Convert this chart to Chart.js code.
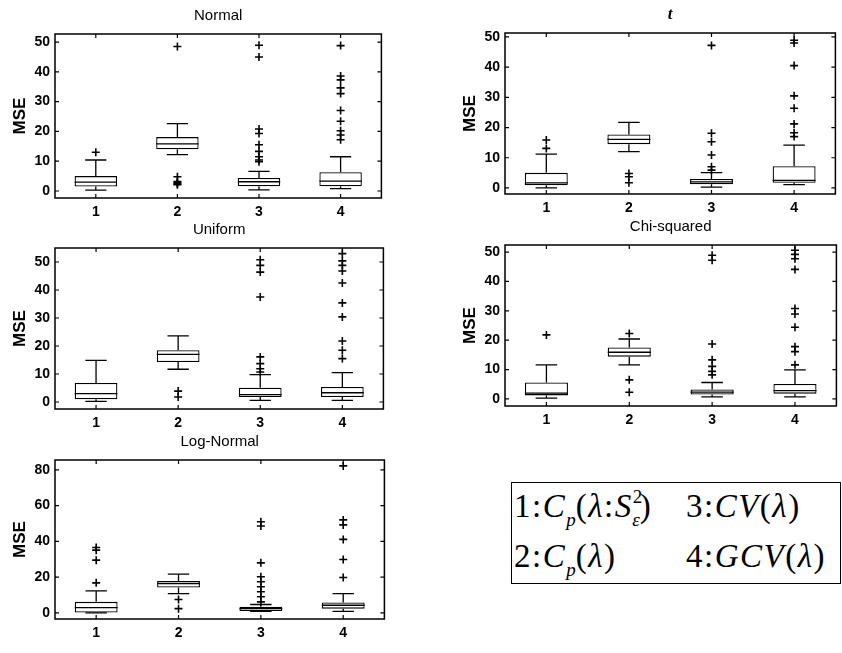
<!DOCTYPE html>
<html>
<head>
<meta charset="utf-8">
<script src="https://cdn.jsdelivr.net/npm/chart.js@4.4.1/dist/chart.umd.min.js"></script>
<style>
  body { margin: 0; background: #fff; width: 842px; height: 653px; position: relative; overflow: hidden; }
  canvas { position: absolute; }
  #legendBox { position: absolute; left: 511px; top: 482px; width: 328px; height: 100px;
    border: 1.5px solid #000; font-family: "Liberation Serif", "Times New Roman", serif; font-size: 33px; color: #000; }
  .lg { position: absolute; white-space: nowrap; line-height: 33px; letter-spacing: 1.5px; }
  .sb { font-size: 19px; position: relative; top: 9px; letter-spacing: 0; }
  .sp { font-size: 19px; position: relative; top: -14px; letter-spacing: 0; }
</style>
</head>
<body>
<div id="legendBox">
  <span class="lg" style="left:2px;top:7px">1:<i>C</i><span class="sb"><i>p</i></span>(<i>λ</i>:<i>S</i><span class="sp">2</span><span class="sb" style="margin-left:-10px"><i>ε</i></span>)</span>
  <span class="lg" style="left:174px;top:7px">3:<i>CV</i>(<i>λ</i>)</span>
  <span class="lg" style="left:2px;top:57px">2:<i>C</i><span class="sb"><i>p</i></span>(<i>λ</i>)</span>
  <span class="lg" style="left:174px;top:57px">4:<i>GCV</i>(<i>λ</i>)</span>
</div>
<script>
var categories = ["1", "2", "3", "4"];
var msTicks = [0, 10, 20, 30, 40, 50];
var logTicks = [0, 20, 40, 60, 80];

// Normal
var normalQ1 = [1.5, 14.0, 1.6, 1.6];
var normalMed = [3.0, 15.8, 3.1, 3.3];
var normalQ3 = [5.0, 18.1, 4.4, 6.3];
var normalLo = [0.3, 12.2, 0.4, 0.8];
var normalHi = [10.4, 22.6, 6.6, 11.5];
var normalOut = [[13.0], [48.5, 4.8, 3.2, 2.8, 2.4, 2.1],
  [48.9, 45.0, 20.8, 19.3, 15.5, 13.3, 11.5, 10.4, 9.8],
  [48.8, 38.6, 37.3, 34.6, 32.7, 27.0, 23.4, 20.2, 18.8, 17.2]];

// t
var tQ1 = [0.9, 14.5, 1.2, 1.7];
var tMed = [1.7, 16.1, 2.0, 2.5];
var tQ3 = [5.0, 17.7, 3.0, 7.2];
var tLo = [0, 12.0, 0.3, 1.1];
var tHi = [11.2, 21.7, 5.1, 14.2];
var tOut = [[13.1, 15.9], [4.8, 3.7, 1.7],
  [47.2, 18.1, 15.3, 10.9, 7.0, 5.9],
  [48.9, 48.0, 40.5, 30.5, 26.4, 21.2, 18.3, 17.0]];

// Uniform
var unifQ1 = [1.0, 14.3, 1.8, 1.8];
var unifMed = [3.0, 17.0, 2.6, 3.3];
var unifQ3 = [6.8, 18.5, 5.1, 5.4];
var unifLo = [0.2, 11.7, 0.6, 0.6];
var unifHi = [14.9, 23.6, 9.8, 10.5];
var unifOut = [[], [3.9, 1.8],
  [50.8, 48.8, 46.4, 37.5, 16.1, 13.7, 11.9, 10.7],
  [53.0, 50.4, 48.8, 46.8, 42.5, 35.4, 30.4, 21.8, 18.5, 15.5]];

// Chi-squared
var chiQ1 = [1.2, 14.4, 1.5, 1.8];
var chiMed = [2.0, 15.9, 2.3, 2.8];
var chiQ3 = [5.6, 17.5, 3.2, 5.1];
var chiLo = [0.3, 11.6, 0.7, 0.7];
var chiHi = [11.6, 20.4, 5.6, 9.9];
var chiOut = [[21.8], [22.3, 6.5, 2.3],
  [48.9, 47.2, 18.7, 13.3, 11.1, 9.4, 8.2],
  [50.6, 49.2, 47.7, 44.1, 30.8, 28.9, 24.4, 17.8, 16.1, 11.6]];

// Log-Normal
var lnQ1 = [0.2, 14.2, 1.1, 2.4];
var lnMed = [3.0, 16.4, 2.4, 4.3];
var lnQ3 = [6.2, 17.8, 3.4, 5.8];
var lnLo = [0, 10.8, 0.9, 0.9];
var lnHi = [12.3, 21.7, 4.7, 10.8];
var lnOut = [[16.8, 29.5, 35.1, 36.6], [7.5, 2.4],
  [51.0, 48.6, 28.0, 20.2, 17.4, 14.6, 11.8, 9.0, 6.2],
  [82.2, 52.0, 49.2, 41.1, 29.9, 19.8]];

var sansBold = { family: "Liberation Sans, Arial, sans-serif", size: 14, weight: "bold" };

function boxExtras(q1, med, q3, lo, hi) {
  return {
    id: "boxExtras",
    afterDatasetsDraw: function(chart) {
      var ctx = chart.ctx, ys = chart.scales.y;
      var bars = chart.getDatasetMeta(0).data;
      ctx.save();
      ctx.strokeStyle = "#000";
      ctx.lineWidth = 1.3;
      ctx.beginPath();
      bars.forEach(function(bar, i) {
        var x = bar.x, hw = bar.width / 2, cw = hw / 2;
        var ym = ys.getPixelForValue(med[i]);
        ctx.moveTo(x - hw, ym); ctx.lineTo(x + hw, ym);
        var yTop = ys.getPixelForValue(q3[i]), yHi = ys.getPixelForValue(hi[i]);
        ctx.moveTo(x, yTop); ctx.lineTo(x, yHi);
        ctx.moveTo(x - cw, yHi); ctx.lineTo(x + cw, yHi);
        var yBot = ys.getPixelForValue(q1[i]), yLo = ys.getPixelForValue(lo[i]);
        ctx.moveTo(x, yBot); ctx.lineTo(x, yLo);
        ctx.moveTo(x - cw, yLo); ctx.lineTo(x + cw, yLo);
      });
      ctx.stroke();
      ctx.restore();
    }
  };
}

// frame and inward ticks, matlab style
var frameTicks = {
  id: "frameTicks",
  afterDraw: function(chart) {
    var ctx = chart.ctx, a = chart.chartArea, xs = chart.scales.x, ys = chart.scales.y;
    ctx.save();
    ctx.strokeStyle = "#000";
    ctx.lineWidth = 1.5;
    ctx.strokeRect(a.left, a.top, a.right - a.left, a.bottom - a.top);
    ctx.lineWidth = 1.2;
    ctx.beginPath();
    ys.ticks.forEach(function(t) {
      var y = ys.getPixelForValue(t.value);
      ctx.moveTo(a.left, y); ctx.lineTo(a.left + 4, y);
      ctx.moveTo(a.right, y); ctx.lineTo(a.right - 4, y);
    });
    xs.ticks.forEach(function(t, i) {
      var x = xs.getPixelForTick(i);
      ctx.moveTo(x, a.bottom); ctx.lineTo(x, a.bottom - 4);
      ctx.moveTo(x, a.top); ctx.lineTo(x, a.top + 4);
    });
    ctx.stroke();
    ctx.restore();
  }
};

function makePanel(pos, title, titleFont, yMin, yMax, yTicks, q1, med, q3, lo, hi, out) {
  var canvas = document.createElement("canvas");
  canvas.width = pos.r - pos.l + 59;
  canvas.height = pos.b - pos.t + 60;
  canvas.style.left = (pos.l - 55) + "px";
  canvas.style.top = (pos.t - 36) + "px";
  document.body.appendChild(canvas);

  var outPts = [];
  out.forEach(function(list, i) {
    list.forEach(function(v) { outPts.push({ x: categories[i], y: v }); });
  });

  return new Chart(canvas, {
    type: "bar",
    data: {
      labels: categories,
      datasets: [{
        type: "bar",
        data: q1.map(function(v, i) { return [v, q3[i]]; }),
        backgroundColor: "#fff",
        borderColor: "#000",
        borderWidth: 1.3,
        borderSkipped: false,
        barPercentage: 0.52,
        categoryPercentage: 1,
        order: 2
      }, {
        type: "line",
        data: outPts,
        showLine: false,
        pointStyle: "cross",
        pointRadius: 4,
        pointBorderWidth: 1.6,
        borderColor: "#000",
        pointBorderColor: "#000",
        order: 1
      }]
    },
    options: {
      responsive: false,
      animation: false,
      layout: { padding: { left: 0, right: 4, top: 0, bottom: 4 } },
      plugins: {
        legend: { display: false },
        tooltip: { enabled: false },
        title: {
          display: true, text: title, fullSize: false, color: "#000",
          font: titleFont, padding: { top: 9, bottom: 9 }
        }
      },
      scales: {
        x: {
          grid: { display: false, drawTicks: false },
          border: { display: false },
          ticks: { font: sansBold, color: "#000", padding: 6 },
          afterFit: function(s) { s.height = 20; }
        },
        y: {
          min: yMin, max: yMax,
          afterBuildTicks: function(s) { s.ticks = yTicks.map(function(v) { return { value: v }; }); },
          grid: { display: false, drawTicks: false },
          border: { display: false },
          ticks: { font: sansBold, color: "#000", padding: 5 },
          title: {
            display: true, text: "MSE", color: "#000",
            font: { family: "Liberation Sans, Arial, sans-serif", size: 17, weight: "bold" },
            padding: { top: 10, bottom: 0 }
          },
          afterFit: function(s) { s.width = 55; }
        }
      }
    },
    plugins: [boxExtras(q1, med, q3, lo, hi), frameTicks]
  });
}

var plainTitle = { family: "Liberation Sans, Arial, sans-serif", size: 15, weight: "normal", lineHeight: 1.2 };
var italicTitle = { family: "Liberation Serif, Times New Roman, serif", size: 17, style: "italic", weight: "bold", lineHeight: 18 / 17 };

makePanel({ l: 55, r: 383, t: 34, b: 198 }, "Normal", plainTitle, -2.35, 52.7, msTicks,
  normalQ1, normalMed, normalQ3, normalLo, normalHi, normalOut);
makePanel({ l: 505, r: 837, t: 33, b: 194 }, "t", italicTitle, -2.0, 51.3, msTicks,
  tQ1, tMed, tQ3, tLo, tHi, tOut);
makePanel({ l: 55, r: 385, t: 248, b: 409 }, "Uniform", plainTitle, -2.5, 55, msTicks,
  unifQ1, unifMed, unifQ3, unifLo, unifHi, unifOut);
makePanel({ l: 505, r: 838, t: 245, b: 406 }, "Chi-squared", plainTitle, -2.4, 52.4, msTicks,
  chiQ1, chiMed, chiQ3, chiLo, chiHi, chiOut);
makePanel({ l: 55, r: 386, t: 460, b: 619 }, "Log-Normal", plainTitle, -3.4, 85.5, logTicks,
  lnQ1, lnMed, lnQ3, lnLo, lnHi, lnOut);
</script>
</body>
</html>
